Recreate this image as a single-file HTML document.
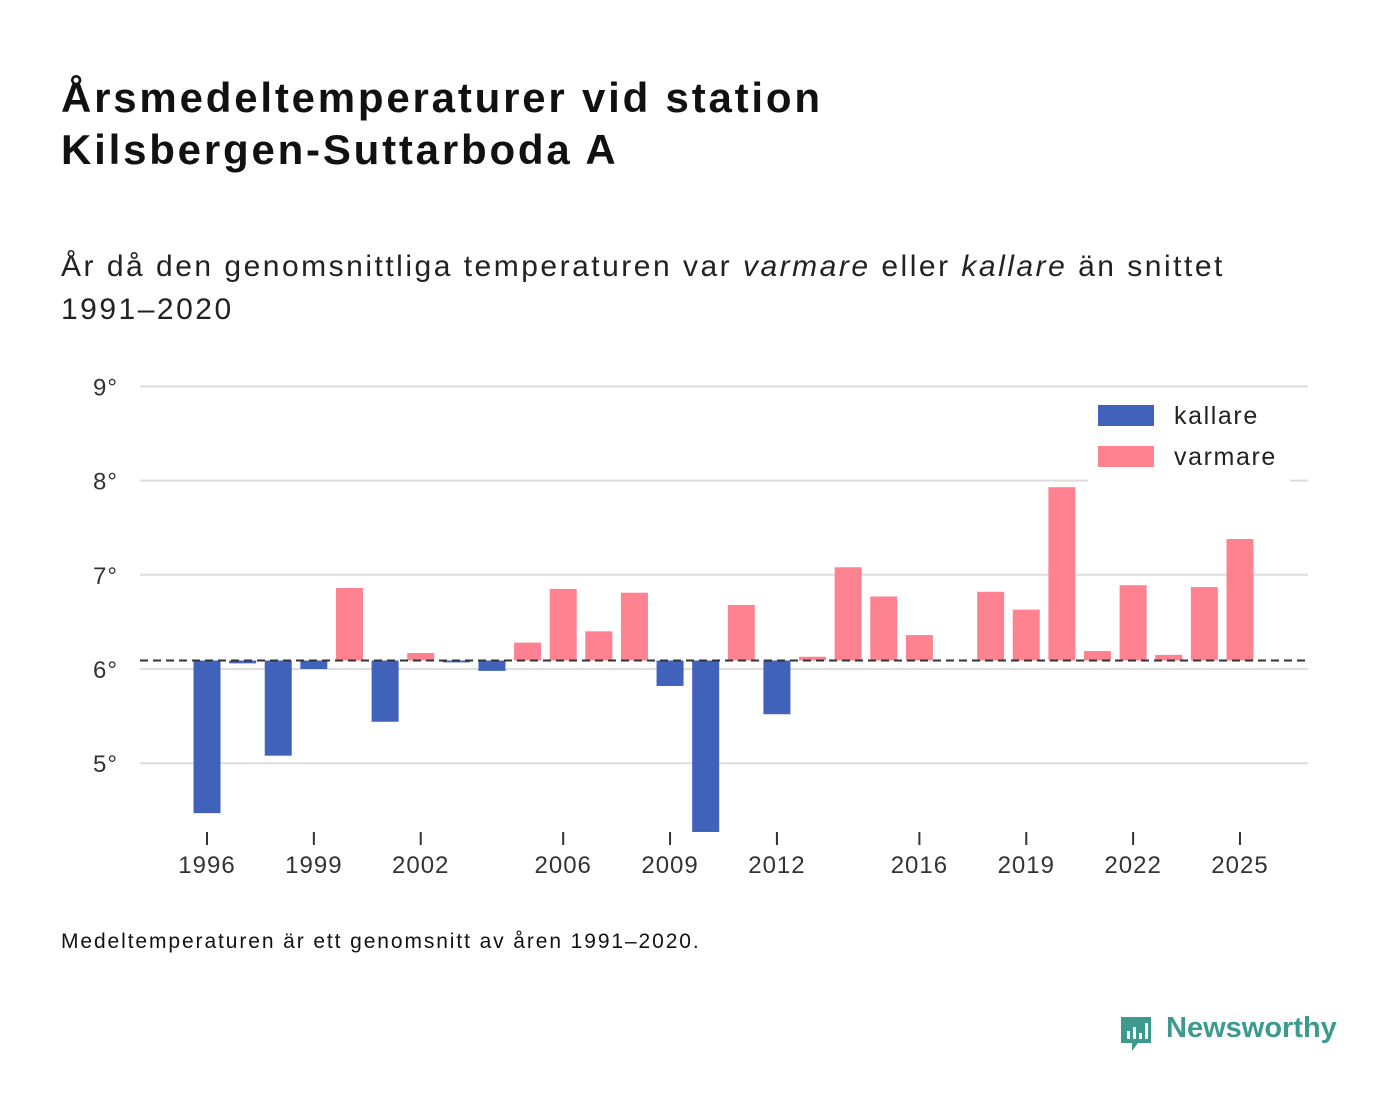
<!DOCTYPE html>
<html><head><meta charset="utf-8">
<style>
body{margin:0;background:#fff;font-family:"Liberation Sans","DejaVu Sans",sans-serif;}
#wrap{position:relative;width:1400px;height:1116px;overflow:hidden;background:#fff}
h1{position:absolute;left:61px;top:72px;margin:0;font-size:42px;line-height:52px;font-weight:bold;color:#111;letter-spacing:2.8px;white-space:nowrap}
.sub{position:absolute;left:61px;top:245px;font-size:30px;line-height:43px;color:#222;margin:0;width:1300px;letter-spacing:2.5px}
.note{position:absolute;left:61px;top:930px;font-size:21px;color:#111;letter-spacing:1.9px;white-space:nowrap}
.logo{position:absolute;left:1118px;top:1012px;font-size:29px;font-weight:bold;color:#3d9a8f}
svg{position:absolute;left:0;top:0}
</style></head><body>
<div id="wrap">
<h1>Årsmedeltemperaturer vid station<br>Kilsbergen-Suttarboda A</h1>
<p class="sub">År då den genomsnittliga temperaturen var <i>varmare</i> eller <i>kallare</i> än snittet<br>1991–2020</p>
<svg id="chart" width="1400" height="1116"></svg>
<div class="note">Medeltemperaturen är ett genomsnitt av åren 1991–2020.</div>
<div class="logo"><svg width="36" height="42" style="position:absolute;left:0;top:2px;"><path d="M3 3h30v26H20l-6 8v-8H3z" fill="#3d9a8f"/><rect x="9" y="17" width="3" height="8" fill="#fff"/><rect x="15" y="13" width="3" height="12" fill="#fff"/><rect x="21" y="19" width="3" height="6" fill="#fff"/><rect x="27" y="9" width="3" height="16" fill="#fff"/></svg><span style="margin-left:48px">Newsworthy</span></div>
</div>
<script>
const years=[1996,1997,1998,1999,2000,2001,2002,2003,2004,2005,2006,2007,2008,2009,2010,2011,2012,2013,2014,2015,2016,2017,2018,2019,2020,2021,2022,2023,2024,2025];
const temps=[4.47,6.06,5.08,6.0,6.86,5.44,6.17,6.07,5.98,6.28,6.85,6.40,6.81,5.82,4.27,6.68,5.52,6.13,7.08,6.77,6.36,6.09,6.82,6.63,7.93,6.19,6.89,6.15,6.87,7.38];
const baseline=6.09;
const yTicks=[5,6,7,8,9];
const xTicks=[1996,1999,2002,2006,2009,2012,2016,2019,2022,2025];
const NS="http://www.w3.org/2000/svg";
const svg=document.getElementById('chart');
const y=v=>669-(v-6)*94.2;
const x=yr=>207+(yr-1996)*35.62;
function mk(tag,attrs){const e=document.createElementNS(NS,tag);for(const k in attrs)e.setAttribute(k,attrs[k]);svg.appendChild(e);return e;}
yTicks.forEach(t=>{
  const l=mk('line',{x1:140,x2:1308,y1:y(t),y2:y(t),stroke:'#ddd','stroke-width':2});
  
  
  const tx=mk('text',{x:118,y:y(t)+9,'text-anchor':'end','font-size':24,fill:'#333','font-family':'Liberation Sans, sans-serif','letter-spacing':1});
  tx.textContent=t+'°';
  
  
});
years.forEach((yr,i)=>{
  const v=temps[i];const warm=v>=baseline;
  const top=warm?y(v):y(baseline);const h=Math.abs(y(v)-y(baseline));
  const r=mk('rect',{x:x(yr)-13.5,y:top,width:27,height:Math.max(h,0),fill:warm?'#ff8290':'#4062bb'});
  
  
});
const bl=mk('line',{x1:140,x2:1308,y1:y(baseline),y2:y(baseline),stroke:'#333','stroke-width':2,'stroke-dasharray':'8,5'});


xTicks.forEach(t=>{
  const l=mk('line',{x1:x(t),x2:x(t),y1:832,y2:845,stroke:'#333','stroke-width':2});
  
  
  const tx=mk('text',{x:x(t),y:873,'text-anchor':'middle','font-size':24,fill:'#333','font-family':'Liberation Sans, sans-serif','letter-spacing':1});
  tx.textContent=t;
  
  
});
const lb=mk('rect',{x:1088,y:395,width:202,height:87,fill:'#fff'});


[['kallare','#4062bb',405],['varmare','#ff8290',446]].forEach(([n,c,yy])=>{
  const r=mk('rect',{x:1098,y:yy,width:56,height:21,fill:c});
  
  
  const t=mk('text',{x:1174,y:yy+19,'font-size':25,fill:'#222','font-family':'Liberation Sans, sans-serif','letter-spacing':1.6});
  t.textContent=n;
  
  
});
</script>
</body></html>
